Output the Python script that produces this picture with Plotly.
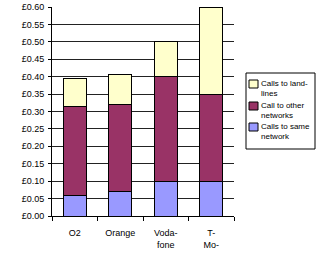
import plotly.graph_objects as go

categories = ["O2", "Orange", "Voda-<br>fone", "T-<br>Mo-"]
same_network = [0.06, 0.07, 0.10, 0.10]
other_networks = [0.255, 0.25, 0.30, 0.25]
landlines = [0.08, 0.085, 0.10, 0.25]

series_names = ["Calls to same<br>network", "Call to other<br>networks", "Calls to land-<br>lines"]
series_colors = ["#9999FF", "#993366", "#FFFFCC"]
series_values = [same_network, other_networks, landlines]

y_ticks = [i * 0.05 for i in range(13)]
y_tick_labels = ["\u00a3%.2f" % v for v in y_ticks]

font = dict(family="Liberation Sans, Arial", size=9, color="black")

W, H = 316, 253
L, R, T, B = 52, 82, 7, 37
PW, PH = W - L - R, H - T - B


def px(x):
    return (x - L) / PW


def py(y):
    return (H - B - y) / PH


fig = go.Figure()
for name, color, vals in zip(series_names, series_colors, series_values):
    fig.add_bar(x=categories, y=vals, name=name,
                marker=dict(color=color, line=dict(color="black", width=1)))

shapes = []
annotations = []
# legend box
shapes.append(dict(type="rect", xref="paper", yref="paper",
                   x0=px(246), x1=px(315), y0=py(149), y1=py(73),
                   line=dict(color="black", width=1), fillcolor="white"))
legend_rows = [(80, series_names[2], series_colors[2]),
               (102, series_names[1], series_colors[1]),
               (123, series_names[0], series_colors[0])]
for top, name, color in legend_rows:
    shapes.append(dict(type="rect", xref="paper", yref="paper",
                       x0=px(249), x1=px(258), y0=py(top + 8), y1=py(top),
                       line=dict(color="black", width=1), fillcolor=color))
    annotations.append(dict(xref="paper", yref="paper", x=px(259), y=py(top - 3),
                            xanchor="left", yanchor="top", align="left",
                            text=name, showarrow=False,
                            font=dict(family="Liberation Sans, Arial", size=8, color="black")))

fig.update_layout(
    width=W, height=H,
    barmode="stack", bargap=0.5,
    margin=dict(l=L, r=R, t=T, b=B, autoexpand=False),
    paper_bgcolor="white", plot_bgcolor="white",
    font=font,
    showlegend=False,
    shapes=shapes, annotations=annotations,
    xaxis=dict(showline=True, linecolor="black", linewidth=1,
               ticks="outside", tickson="boundaries", ticklen=4, tickcolor="black",
               showgrid=False, tickfont=font, tickangle=0, ticklabelstandoff=8),
    yaxis=dict(range=[0, 0.6], tickvals=y_ticks, ticktext=y_tick_labels,
               showline=True, linecolor="black", linewidth=1,
               ticks="outside", ticklen=3, tickcolor="black",
               showgrid=True, gridcolor="#222222", gridwidth=1, tickfont=font,
               zeroline=False, ticklabelstandoff=2),
)

fig.write_html("out.html", config={"displayModeBar": False},
               post_script="document.body.style.margin='0';document.body.style.overflow='hidden';")
